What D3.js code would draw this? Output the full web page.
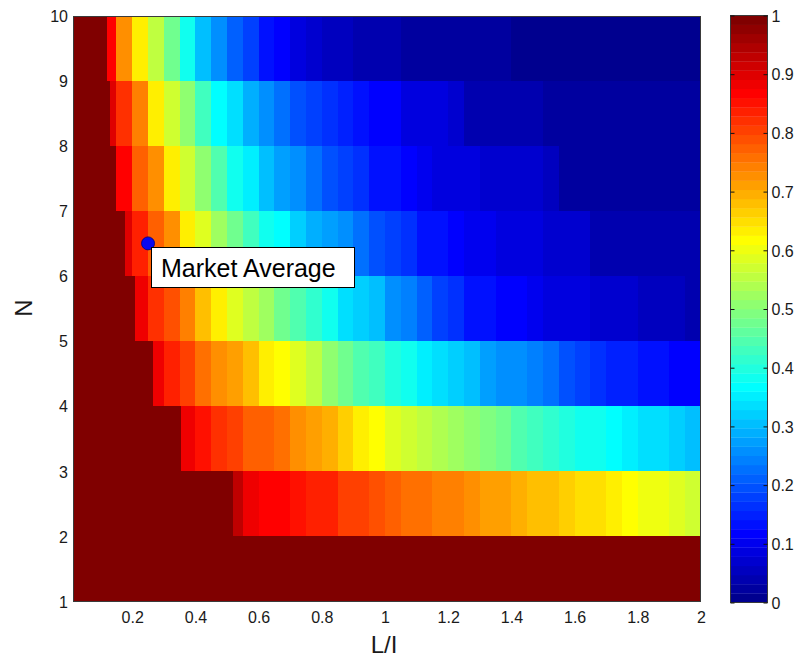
<!DOCTYPE html>
<html>
<head>
<meta charset="utf-8">
<script src="https://cdn.jsdelivr.net/npm/d3@7"></script>
<style>
body { margin: 0; background: #fff; }
text { font-family: "Liberation Sans", Arial, Helvetica, sans-serif; fill: #1a1a1a; }
</style>
</head>
<body>
<div id="chart"></div>
<script>
"use strict";

// ---- data ----
// lower edge N of each band, and the L/I where the band leaves the saturated (=1) region
var nBands = [1, 2, 3, 4, 5, 6, 7, 8, 9];
var bandStart = [2.0, 0.52, 0.354, 0.265, 0.21, 0.176, 0.148, 0.13, 0.12];
var xStep = 0.05; // width of a value cell along L/I

// values per cell, starting with the (partial) cell that holds bandStart
var band1 = [];
var band2 = [0.93, 0.89, 0.87, 0.86, 0.85, 0.84, 0.83, 0.81, 0.8, 0.79,
  0.78, 0.76, 0.755, 0.745, 0.735, 0.72, 0.715, 0.705, 0.695, 0.685,
  0.675, 0.665, 0.655, 0.645, 0.625, 0.615, 0.605, 0.595, 0.585, 0.575];
var band3 = [0.88, 0.85, 0.82, 0.8, 0.78, 0.77, 0.75, 0.73, 0.71, 0.69,
  0.66, 0.63, 0.61, 0.59, 0.575, 0.55, 0.54, 0.52, 0.5, 0.49,
  0.47, 0.45, 0.43, 0.41, 0.4, 0.39, 0.38, 0.37, 0.35, 0.34,
  0.33, 0.32, 0.31];
var band4 = [0.88, 0.84, 0.8, 0.76, 0.73, 0.71, 0.68, 0.64, 0.61, 0.58,
  0.55, 0.51, 0.48, 0.45, 0.43, 0.4, 0.375, 0.35, 0.33, 0.32,
  0.3, 0.28, 0.265, 0.25, 0.235, 0.22, 0.2, 0.185, 0.17, 0.155,
  0.145, 0.135, 0.125, 0.12, 0.11];
var band5 = [0.88, 0.82, 0.79, 0.74, 0.68, 0.635, 0.59, 0.56, 0.52, 0.48,
  0.45, 0.42, 0.38, 0.34, 0.32, 0.3, 0.26, 0.24, 0.21, 0.18,
  0.16, 0.14, 0.125, 0.12, 0.11, 0.1, 0.09, 0.085, 0.08, 0.075,
  0.07, 0.065, 0.06, 0.058, 0.055, 0.045];
var band6 = [0.9, 0.84, 0.78, 0.72, 0.64, 0.59, 0.53, 0.47, 0.43, 0.39,
  0.36, 0.32, 0.29, 0.27, 0.25, 0.22, 0.2, 0.18, 0.16, 0.14,
  0.125, 0.115, 0.105, 0.1, 0.09, 0.085, 0.08, 0.075, 0.07, 0.065,
  0.04, 0.038, 0.036, 0.035, 0.034, 0.033, 0.032];
var band7 = [0.93, 0.86, 0.78, 0.72, 0.63, 0.57, 0.5, 0.45, 0.39, 0.35,
  0.31, 0.28, 0.25, 0.23, 0.2, 0.18, 0.16, 0.14, 0.13, 0.11,
  0.1, 0.09, 0.085, 0.08, 0.07, 0.068, 0.066, 0.064, 0.06,
  0.025, 0.024, 0.023, 0.022, 0.021, 0.02, 0.019, 0.018, 0.017];
var band8 = [0.9, 0.82, 0.74, 0.63, 0.57, 0.5, 0.43, 0.37, 0.33, 0.29,
  0.26, 0.23, 0.2, 0.18, 0.17, 0.15, 0.13, 0.12, 0.11, 0.09,
  0.085, 0.08, 0.075,
  0.04, 0.038, 0.036, 0.034, 0.032, 0.03, 0.028, 0.027, 0.026, 0.025,
  0.024, 0.023, 0.022, 0.021, 0.02];
var band9 = [0.87, 0.72, 0.64, 0.55, 0.47, 0.38, 0.31, 0.26, 0.21, 0.18,
  0.14, 0.11, 0.085, 0.07, 0.06, 0.05, 0.045, 0.04, 0.035, 0.03,
  0.028, 0.025, 0.022, 0.02, 0.018, 0.016, 0.015, 0.014, 0.013, 0.012,
  0.011, 0.01, 0.01, 0.009, 0.008, 0.008, 0.007, 0.007];
var bandValues = [band1, band2, band3, band4, band5, band6, band7, band8, band9];

var xTicks = [0.2, 0.4, 0.6, 0.8, 1, 1.2, 1.4, 1.6, 1.8, 2];
var yTicks = [1, 2, 3, 4, 5, 6, 7, 8, 9, 10];
var cTicks = [0, 0.1, 0.2, 0.3, 0.4, 0.5, 0.6, 0.7, 0.8, 0.9, 1];
var marketPoint = [0.25, 6.5];
var marketLabel = "Market Average";

// ---- layout ----
var W = 802, H = 663;
var plot = { left: 73, top: 15.5, right: 701, bottom: 601.5 };
var cbar = { left: 730, right: 768, top: 15.5, bottom: 602.5 };
var xMin = 0.0125;

var x = d3.scaleLinear().domain([xMin, 2]).range([plot.left, plot.right]);
var y = d3.scaleLinear().domain([1, 10]).range([plot.bottom, plot.top]);
var c = d3.scaleLinear().domain([0, 1]).range([cbar.bottom, cbar.top]);

// MATLAB style jet colormap, m entries
function jetMap(m) {
  var n = Math.ceil(m / 4);
  var u = [], i;
  for (i = 1; i <= n; i++) u.push(i / n);
  for (i = 1; i < n; i++) u.push(1);
  for (i = n; i >= 1; i--) u.push(i / n);
  var gOff = Math.ceil(n / 2) - (m % 4 === 1 ? 1 : 0);
  var J = d3.range(m).map(function() { return [0, 0, 0]; });
  u.forEach(function(val, k) {
    var g = gOff + k + 1, r = g + n, b = g - n;
    if (r <= m) J[r - 1][0] = val;
    if (g >= 1 && g <= m) J[g - 1][1] = val;
    if (b > 0) J[b - 1][2] = val;
  });
  return J.map(function(cc) {
    return d3.rgb(cc[0] * 255, cc[1] * 255, cc[2] * 255).formatHex();
  });
}
var jet = jetMap(64);
function colorOf(v) {
  return jet[Math.max(0, Math.min(63, Math.floor(v * 64)))];
}

// build cells from the band arrays
var cells = [];
nBands.forEach(function(n, i) {
  var s = bandStart[i];
  cells.push({ x0: xMin, x1: s, n: n, v: 1 });
  var k = Math.floor(s / xStep + 1e-6);
  bandValues[i].forEach(function(v, j) {
    cells.push({ x0: Math.max(s, (k + j) * xStep), x1: (k + j + 1) * xStep, n: n, v: v });
  });
});

var svg = d3.select("#chart").append("svg")
  .attr("width", W)
  .attr("height", H);

svg.append("g").attr("class", "cells")
  .selectAll("rect")
  .data(cells)
  .enter().append("rect")
  .attr("x", function(d) { return Math.round(x(d.x0)); })
  .attr("width", function(d) { return Math.round(x(d.x1)) - Math.round(x(d.x0)); })
  .attr("y", function(d) { return Math.round(y(d.n + 1)); })
  .attr("height", function(d) { return Math.round(y(d.n)) - Math.round(y(d.n + 1)); })
  .attr("fill", function(d) { return colorOf(d.v); })
  .attr("shape-rendering", "crispEdges");

// axes box
svg.append("rect")
  .attr("x", Math.round(plot.left) + 0.5)
  .attr("y", Math.round(plot.top) + 0.5)
  .attr("width", Math.round(plot.right) - Math.round(plot.left) - 1)
  .attr("height", Math.round(plot.bottom) - Math.round(plot.top) - 1)
  .attr("fill", "none")
  .attr("stroke", "#3a3a3a")
  .attr("stroke-width", 1);

// tick labels (ticks themselves sit under the image)
var fmt = d3.format("~g");
var xAxis = d3.axisBottom(x).tickValues(xTicks).tickSize(0).tickPadding(16).tickFormat(fmt);
var gx = svg.append("g").attr("transform", "translate(0," + plot.bottom + ")").call(xAxis);
gx.select(".domain").remove();
gx.selectAll("text").style("font-size", "16px").attr("dy", 0).attr("y", 21.5);

var yAxis = d3.axisLeft(y).tickValues(yTicks).tickSize(0).tickPadding(5).tickFormat(fmt);
var gy = svg.append("g").attr("transform", "translate(" + plot.left + ",0)").call(yAxis);
gy.select(".domain").remove();
gy.selectAll("text").style("font-size", "16px").attr("dy", "0.36em");

// axis titles
svg.append("text")
  .attr("x", 384).attr("y", 653)
  .attr("text-anchor", "middle")
  .style("font-size", "24px")
  .text("L/I");
svg.append("text")
  .attr("transform", "translate(32,308) rotate(-90)")
  .attr("text-anchor", "middle")
  .style("font-size", "24px")
  .text("N");

// market average marker and its label box
var mx = x(marketPoint[0]), my = y(marketPoint[1]);
svg.append("circle")
  .attr("cx", mx).attr("cy", my).attr("r", 6.5)
  .attr("fill", "#0808f0")
  .attr("stroke", "#00007a")
  .attr("stroke-width", 0.8);
svg.append("rect")
  .attr("x", Math.round(mx + 3) + 0.5)
  .attr("y", Math.round(my + 3.5) + 0.5)
  .attr("width", 203).attr("height", 40)
  .attr("fill", "#fff")
  .attr("stroke", "#000")
  .attr("stroke-width", 1);
svg.append("text")
  .attr("x", mx + 13).attr("y", my + 34)
  .style("font-size", "25px")
  .style("fill", "#000")
  .text(marketLabel);

// colorbar
var cBands = d3.range(64);
svg.append("g").selectAll("rect")
  .data(cBands)
  .enter().append("rect")
  .attr("x", cbar.left)
  .attr("width", cbar.right - cbar.left)
  .attr("y", function(i) { return c((i + 1) / 64); })
  .attr("height", function(i) { return c(i / 64) - c((i + 1) / 64) + 0.3; })
  .attr("fill", function(i) { return jet[i]; });

svg.append("rect")
  .attr("x", cbar.left + 0.5).attr("y", cbar.top)
  .attr("width", cbar.right - cbar.left - 1)
  .attr("height", cbar.bottom - cbar.top)
  .attr("fill", "none")
  .attr("stroke", "#3a3a3a");

var cRight = d3.axisRight(c).tickValues(cTicks).tickSizeInner(-4).tickSizeOuter(0)
  .tickPadding(4).tickFormat(fmt);
var gc = svg.append("g").attr("transform", "translate(" + (cbar.right - 0.5) + ",0)").call(cRight);
gc.select(".domain").remove();
gc.selectAll("line").attr("stroke", "#111");
gc.selectAll("text").style("font-size", "16px").attr("dy", "0.36em");

var cLeft = d3.axisLeft(c).tickValues(cTicks).tickSizeInner(-4).tickSizeOuter(0).tickFormat("");
var gcl = svg.append("g").attr("transform", "translate(" + (cbar.left + 0.5) + ",0)").call(cLeft);
gcl.select(".domain").remove();
gcl.selectAll("line").attr("stroke", "#111");
</script>
</body>
</html>
